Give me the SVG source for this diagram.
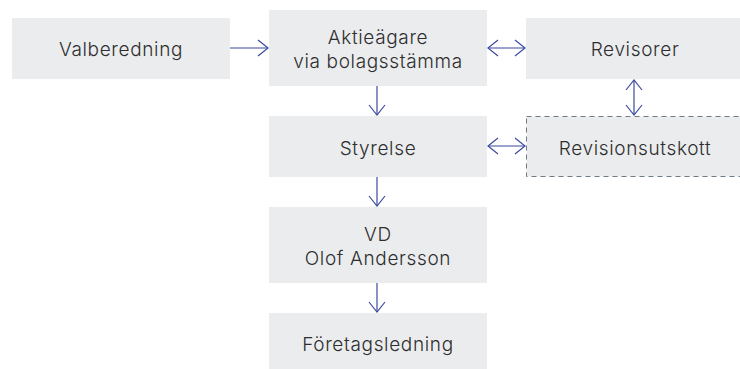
<svg xmlns="http://www.w3.org/2000/svg" width="740" height="369" viewBox="0 0 740 369">
<defs>
<style>
.box{fill:#ebecee}
.dash{fill:#ebecee;stroke:#6f7c85;stroke-width:1;stroke-dasharray:5 4}
.t{font-family:Inter,"Open Sans","Liberation Sans",sans-serif;font-size:19px;font-weight:300;letter-spacing:0.65px;fill:#2e2e2e;text-anchor:middle}
.c{stroke:#3a4a9e;stroke-width:1.2;fill:none}
</style>
<marker id="ah" viewBox="0 0 12 18" refX="11" refY="9" markerWidth="12" markerHeight="18" markerUnits="userSpaceOnUse" orient="auto-start-reverse">
<path d="M1,1 L11,9 L1,17" fill="none" stroke="#3a4a9e" stroke-width="1.2"/>
</marker>
</defs>
<rect width="740" height="369" fill="#ffffff"/>
<g id="valberedning"><rect class="box" x="12" y="18" width="218" height="61"/><text class="t" x="121" y="56">Valberedning</text></g>
<g id="aktieagare"><rect class="box" x="269" y="10" width="218" height="76"/><text class="t" x="378" y="44">Aktieägare</text><text class="t" x="378" y="68">via bolagsstämma</text></g>
<g id="revisorer"><rect class="box" x="526" y="18" width="218" height="61"/><text class="t" x="635" y="56">Revisorer</text></g>
<g id="styrelse"><rect class="box" x="269" y="116" width="218" height="61"/><text class="t" x="378" y="155">Styrelse</text></g>
<g id="revisionsutskott"><rect class="dash" x="526.5" y="116.5" width="218" height="60"/><text class="t" x="635" y="155">Revisionsutskott</text></g>
<g id="vd"><rect class="box" x="269" y="207" width="218" height="76"/><text class="t" x="378" y="241">VD</text><text class="t" x="378" y="265">Olof Andersson</text></g>
<g id="foretagsledning"><rect class="box" x="269" y="313" width="218" height="56"/><text class="t" x="378" y="351">Företagsledning</text></g>
<g id="connectors">
<line class="c" x1="230" y1="48" x2="268" y2="48" marker-end="url(#ah)"/>
<line class="c" x1="488" y1="48" x2="525" y2="48" marker-start="url(#ah)" marker-end="url(#ah)"/>
<line class="c" x1="488" y1="146" x2="525" y2="146" marker-start="url(#ah)" marker-end="url(#ah)"/>
<line class="c" x1="634" y1="80" x2="634" y2="115" marker-start="url(#ah)" marker-end="url(#ah)"/>
<line class="c" x1="377" y1="86" x2="377" y2="115" marker-end="url(#ah)"/>
<line class="c" x1="377" y1="177" x2="377" y2="206" marker-end="url(#ah)"/>
<line class="c" x1="377" y1="283" x2="377" y2="312" marker-end="url(#ah)"/>
</g>
</svg>
